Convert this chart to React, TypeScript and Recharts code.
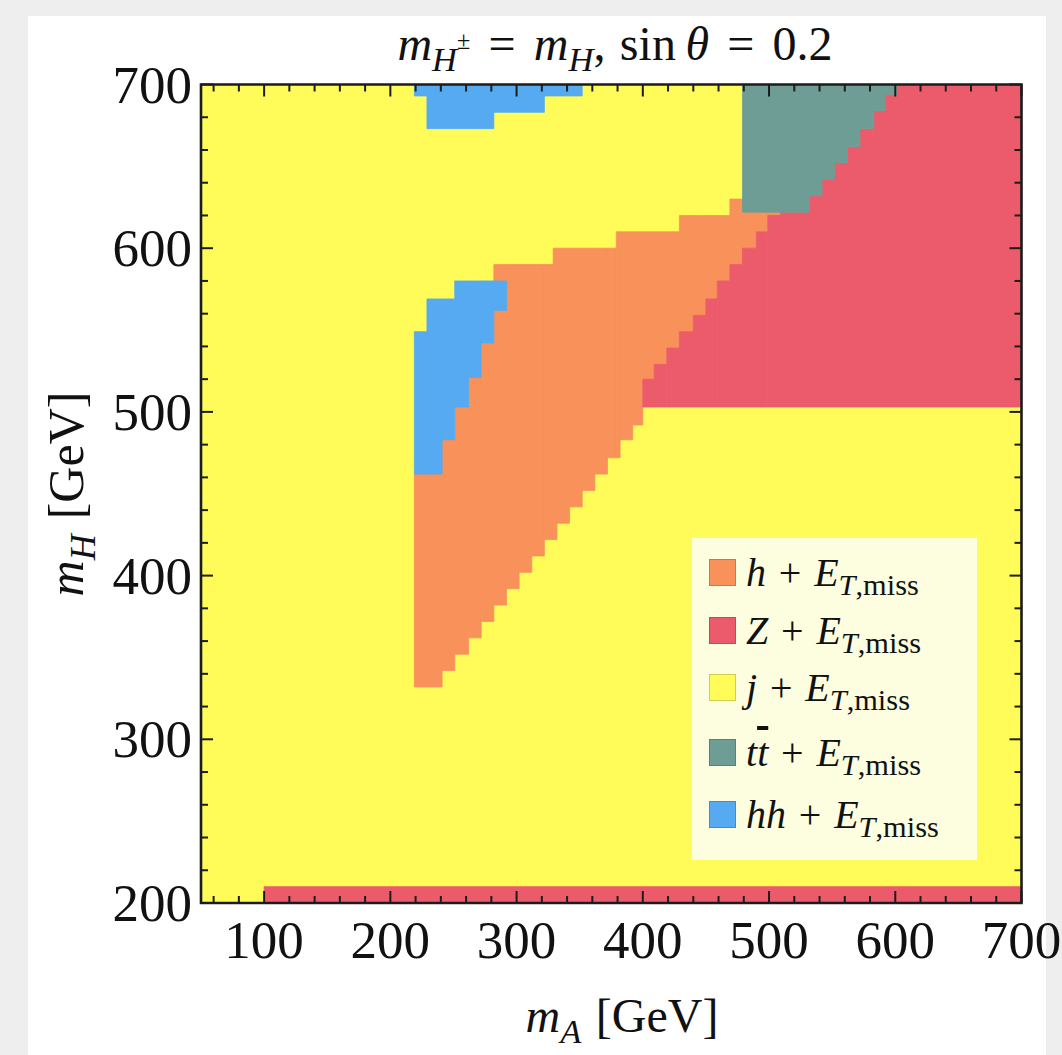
import React from 'react';
import { ComposedChart, XAxis, YAxis, ReferenceArea } from 'recharts';

// scan ranges [GeV]
const mADomain = [50, 700];
const mHDomain = [200, 700];
const scanCorners = [
  { mA: 50, mH: 200 },
  { mA: 700, mH: 700 },
];

const mAMajorTicks = [100, 200, 300, 400, 500, 600, 700];
const mAMinorTicks = [60, 80, 120, 140, 160, 180, 220, 240, 260, 280, 320, 340, 360, 380, 420, 440, 460, 480, 520, 540, 560, 580, 620, 640, 660, 680];
const mHMajorTicks = [200, 300, 400, 500, 600, 700];
const mHMinorTicks = [220, 240, 260, 280, 320, 340, 360, 380, 420, 440, 460, 480, 520, 540, 560, 580, 620, 640, 660, 680];

// grid cells per channel: [mA from, mA to, mH from, mH to]
const hSpans = [
  [219, 241, 332, 462],
  [241, 251, 342, 483],
  [251, 262, 352, 503],
  [262, 272, 362, 521],
  [272, 282, 372, 542],
  [282, 292, 382, 562],
  [282, 292, 580, 590],
  [292, 302, 392, 590],
  [302, 312, 402, 590],
  [312, 322, 412, 590],
  [322, 329, 422, 590],
  [329, 332, 422, 600],
  [332, 342, 432, 600],
  [342, 352, 442, 600],
  [352, 362, 452, 600],
  [362, 372, 462, 600],
  [372, 379, 472, 600],
  [379, 382, 472, 610],
  [382, 392, 483, 610],
  [392, 400, 492, 610],
  [400, 409, 520, 610],
  [409, 419, 529, 610],
  [419, 429, 539, 610],
  [429, 440, 549, 620],
  [440, 450, 559, 620],
  [450, 459, 569, 620],
  [459, 469, 580, 620],
  [469, 479, 590, 630],
  [479, 490, 600, 622],
  [490, 499, 610, 622],
  [499, 509, 620, 622],
];

const zSpans = [
  [100, 700, 200, 210],
  [400, 409, 503, 520],
  [409, 419, 503, 529],
  [419, 429, 503, 539],
  [429, 440, 503, 549],
  [440, 450, 503, 559],
  [450, 459, 503, 569],
  [459, 469, 503, 580],
  [469, 479, 503, 590],
  [479, 490, 503, 600],
  [490, 499, 503, 610],
  [499, 509, 503, 620],
  [509, 532, 503, 622],
  [532, 542, 503, 632],
  [542, 552, 503, 642],
  [552, 562, 503, 652],
  [562, 572, 503, 662],
  [572, 583, 503, 673],
  [583, 592, 503, 684],
  [592, 601, 503, 694],
  [601, 700, 503, 700],
];

const ttSpans = [
  [479, 532, 622, 700],
  [532, 542, 632, 700],
  [542, 552, 642, 700],
  [552, 562, 652, 700],
  [562, 572, 662, 700],
  [572, 583, 673, 700],
  [583, 592, 684, 700],
  [592, 601, 694, 700],
];

const hhSpans = [
  [219, 229, 462, 549],
  [229, 241, 462, 569],
  [241, 251, 483, 569],
  [251, 262, 503, 580],
  [262, 272, 521, 580],
  [272, 282, 542, 580],
  [282, 292, 562, 580],
  [219, 229, 693, 700],
  [229, 282, 673, 700],
  [282, 322, 683, 700],
  [322, 352, 693, 700],
];

// everything not claimed by another channel is j + E_T,miss
const jSpans = [[50, 700, 200, 700]];

const COLORS = {
  h: '#f9915a',
  Z: '#ec5b6c',
  j: '#fffc5a',
  tt: '#6d9d95',
  hh: '#55aaf1',
};

const SERIF = "'Liberation Serif', 'Times New Roman', serif";
const FRAME = '#1c1c1c';

// plot box in px
const PLOT = { left: 201, right: 1021.5, top: 84.5, bottom: 903 };
const W = 1062;
const H = 1055;
const AXIS_PAD = 1;

const MAJOR_LEN = 12;
const MINOR_LEN = 7;
const TICK_FONT = 53;

const isMajorA = (v: number) => mAMajorTicks.includes(v);
const isMajorH = (v: number) => mHMajorTicks.includes(v);

const BottomTick = (props: any) => {
  const { x, payload } = props;
  const major = isMajorA(payload.value);
  return (
    <g>
      <line x1={x} x2={x} y1={PLOT.bottom} y2={PLOT.bottom - (major ? MAJOR_LEN : MINOR_LEN)} stroke={FRAME} strokeWidth={2} />
      {major && (
        <text x={x} y={PLOT.bottom + 55} textAnchor="middle" fontFamily={SERIF} fontSize={TICK_FONT} fill="#111">
          {payload.value}
        </text>
      )}
    </g>
  );
};

const TopTick = (props: any) => {
  const { x, payload } = props;
  const major = isMajorA(payload.value);
  return <line x1={x} x2={x} y1={PLOT.top} y2={PLOT.top + (major ? MAJOR_LEN : MINOR_LEN)} stroke={FRAME} strokeWidth={2} />;
};

const LeftTick = (props: any) => {
  const { y, payload } = props;
  const major = isMajorH(payload.value);
  return (
    <g>
      <line x1={PLOT.left} x2={PLOT.left + (major ? MAJOR_LEN : MINOR_LEN)} y1={y} y2={y} stroke={FRAME} strokeWidth={2} />
      {major && (
        <text x={PLOT.left - 9} y={y} dy="0.34em" textAnchor="end" fontFamily={SERIF} fontSize={TICK_FONT} fill="#111">
          {payload.value}
        </text>
      )}
    </g>
  );
};

const RightTick = (props: any) => {
  const { y, payload } = props;
  const major = isMajorH(payload.value);
  return <line x1={PLOT.right} x2={PLOT.right - (major ? MAJOR_LEN : MINOR_LEN)} y1={y} y2={y} stroke={FRAME} strokeWidth={2} />;
};

const renderCells = (spans: number[][], color: string, key: string) =>
  spans.map(([x1, x2, y1, y2], i) => (
    <ReferenceArea
      key={`${key}-${i}`}
      x1={x1}
      x2={x2}
      y1={y1}
      y2={y2}
      fill={color}
      fillOpacity={1}
      stroke={color}
      strokeWidth={0.8}
      ifOverflow="visible"
    />
  ));

const Sub = ({ children, size = 0.72 }: { children: React.ReactNode; size?: number }) => (
  <span style={{ fontSize: `${size}em`, position: 'relative', top: '0.32em' }}>{children}</span>
);

const Op = ({ children, gap = 0.32 }: { children: React.ReactNode; gap?: number }) => (
  <span style={{ margin: `0 ${gap}em` }}>{children}</span>
);

const Emiss = () => (
  <>
    <i>E</i>
    <Sub size={0.76}>
      <i>T</i>,miss
    </Sub>
  </>
);

const legendItems = [
  { color: COLORS.h, label: <><i>h</i><Op>+</Op><Emiss /></> },
  { color: COLORS.Z, label: <><i>Z</i><Op>+</Op><Emiss /></> },
  { color: COLORS.j, label: <><i>j</i><Op>+</Op><Emiss /></> },
  { color: COLORS.tt, label: <><i>t</i><i style={{ textDecoration: 'overline' }}>t</i><Op>+</Op><Emiss /></> },
  { color: COLORS.hh, label: <><i>hh</i><Op>+</Op><Emiss /></> },
];
const legendRowTops = [19, 77, 134, 199, 261];

export default function App() {
  const xTicks = [...mAMinorTicks, ...mAMajorTicks].sort((a, b) => a - b);
  const yTicks = [...mHMinorTicks, ...mHMajorTicks].sort((a, b) => a - b);

  return (
    <div style={{ position: 'absolute', left: 0, top: 0, width: W, height: H, background: '#eeeeee', overflow: 'hidden', fontFamily: SERIF }}>
      <div style={{ position: 'absolute', left: 28, top: 16, width: 1018, height: H - 16, background: '#ffffff' }} />

      <div style={{ position: 'absolute', left: 0, top: 0 }}>
        <ComposedChart
          width={W}
          height={H}
          data={scanCorners}
          margin={{
            top: PLOT.top - AXIS_PAD,
            right: W - PLOT.right - AXIS_PAD,
            bottom: H - PLOT.bottom - AXIS_PAD,
            left: PLOT.left - AXIS_PAD,
          }}
        >
          {renderCells(jSpans, COLORS.j, 'j')}
          {renderCells(hSpans, COLORS.h, 'h')}
          {renderCells(zSpans, COLORS.Z, 'z')}
          {renderCells(hhSpans, COLORS.hh, 'hh')}
          {renderCells(ttSpans, COLORS.tt, 'tt')}

          <XAxis
            dataKey="mA"
            type="number"
            domain={mADomain}
            ticks={xTicks}
            interval={0}
            height={AXIS_PAD}
            tickSize={0}
            tickMargin={0}
            tickLine={false}
            tick={<BottomTick />}
            axisLine={false}
            allowDataOverflow
          />
          <XAxis
            xAxisId="top"
            orientation="top"
            dataKey="mA"
            type="number"
            domain={mADomain}
            ticks={xTicks}
            interval={0}
            height={AXIS_PAD}
            tickSize={0}
            tickMargin={0}
            tickLine={false}
            tick={<TopTick />}
            axisLine={false}
            allowDataOverflow
          />
          <YAxis
            dataKey="mH"
            type="number"
            domain={mHDomain}
            ticks={yTicks}
            interval={0}
            width={AXIS_PAD}
            tickSize={0}
            tickMargin={0}
            tickLine={false}
            tick={<LeftTick />}
            axisLine={false}
            allowDataOverflow
          />
          <YAxis
            yAxisId="right"
            orientation="right"
            dataKey="mH"
            type="number"
            domain={mHDomain}
            ticks={yTicks}
            interval={0}
            width={AXIS_PAD}
            tickSize={0}
            tickMargin={0}
            tickLine={false}
            tick={<RightTick />}
            axisLine={false}
            allowDataOverflow
          />
          {/* frame */}
          <ReferenceArea
            x1={mADomain[0]}
            x2={mADomain[1]}
            y1={mHDomain[0]}
            y2={mHDomain[1]}
            fill="none"
            stroke={FRAME}
            strokeWidth={2.6}
            ifOverflow="visible"
          />
        </ComposedChart>
      </div>

      {/* title */}
      <div style={{ position: 'absolute', left: 615, top: 16, transform: 'translateX(-50%)', fontSize: 48, color: '#111', whiteSpace: 'nowrap' }}>
        <i>m</i>
        <Sub>
          <i>H</i>
          <span style={{ fontSize: '0.7em', position: 'relative', top: '-0.9em' }}>±</span>
        </Sub>
        <Op gap={0.38}>=</Op>
        <i>m</i>
        <Sub>
          <i>H</i>
        </Sub>
        ,<span style={{ marginLeft: '0.3em' }}>sin</span>
        <i style={{ marginLeft: '0.2em' }}>θ</i>
        <Op gap={0.38}>=</Op>0.2
      </div>

      {/* x axis label */}
      <div style={{ position: 'absolute', left: 622, top: 988, transform: 'translateX(-50%)', fontSize: 48, color: '#111', whiteSpace: 'nowrap' }}>
        <i>m</i>
        <Sub>
          <i>A</i>
        </Sub>
        <span style={{ marginLeft: '0.3em' }}>[GeV]</span>
      </div>

      {/* y axis label */}
      <div
        style={{
          position: 'absolute',
          left: 66,
          top: 494,
          transform: 'translate(-50%, -50%) rotate(-90deg)',
          fontSize: 50,
          color: '#111',
          whiteSpace: 'nowrap',
        }}
      >
        <i>m</i>
        <Sub>
          <i>H</i>
        </Sub>
        <span style={{ marginLeft: '0.3em' }}>[GeV]</span>
      </div>

      {/* legend */}
      <div style={{ position: 'absolute', left: 692, top: 538, width: 285, height: 322, background: '#fdfde0' }}>
        {legendItems.map((item, i) => (
          <div key={i} style={{ position: 'absolute', left: 17, top: legendRowTops[i], height: 30, display: 'flex', alignItems: 'center', whiteSpace: 'nowrap' }}>
            <div
              style={{
                width: 27,
                height: 27,
                background: item.color,
                boxShadow: 'inset 0 0 0 1px rgba(0,0,0,0.18)',
                marginRight: 10,
                flex: 'none',
              }}
            />
            <span style={{ fontSize: 40, color: '#111', lineHeight: '30px', position: 'relative', top: 2 }}>{item.label}</span>
          </div>
        ))}
      </div>
    </div>
  );
}
